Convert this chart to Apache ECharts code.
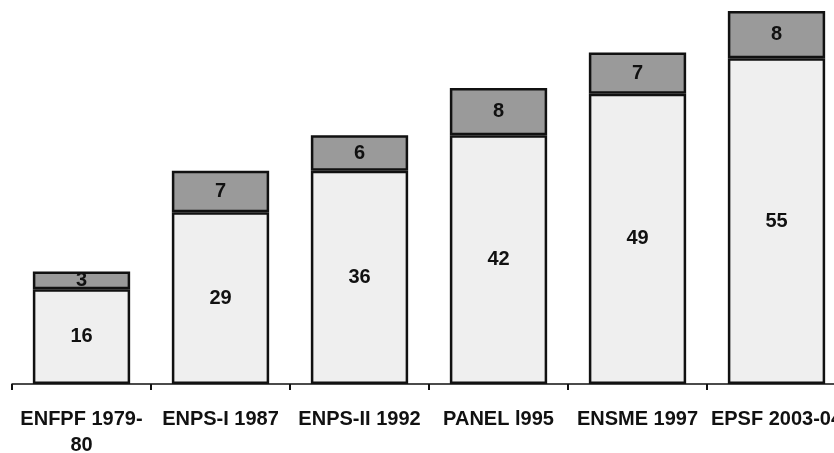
<!DOCTYPE html>
<html><head><meta charset="utf-8">
<script src="https://cdn.jsdelivr.net/npm/echarts@6/dist/echarts.min.js"></script>
<style>html,body{margin:0;padding:0;background:#fff}#c{width:834px;height:453px}</style>
</head><body><div id="c"></div>
<script>
const categories = ['ENFPF 1979-80','ENPS-I 1987','ENPS-II 1992','PANEL l995','ENSME 1997','EPSF 2003-04'];
const baseValues = [16, 29, 36, 42, 49, 55];
const topValues = [3, 7, 6, 8, 7, 8];

const chart = echarts.init(document.getElementById('c'));
const font = '"Liberation Sans", Arial, sans-serif';
const lbl = {show:true, position:'inside', color:'#111', fontFamily:font, fontWeight:'bold', fontSize:20};
chart.setOption({
  animation:false,
  grid:{left:12, right:-12, top:5, bottom:69, outerBoundsMode:'none', containLabel:false},
  xAxis:{type:'category', data:categories,
    axisLine:{lineStyle:{color:'#111', width:1.5}},
    axisTick:{show:true, length:6, lineStyle:{color:'#111', width:2}},
    axisLabel:{interval:0, margin:22, color:'#111', fontFamily:font, fontWeight:'bold', fontSize:20, lineHeight:26,
      formatter: v => v.replace('1979-80','1979-\n80')}
  },
  yAxis:{type:'value', min:0, max:64, show:false, splitLine:{show:false}},
  series:[
    {type:'bar', stack:'s', data:baseValues, barWidth:'70%',
      itemStyle:{color:'#efefef', borderColor:'#111', borderWidth:2.5}, label:lbl},
    {type:'bar', stack:'s', data:topValues, barWidth:'70%',
      itemStyle:{color:'#9a9a9a', borderColor:'#111', borderWidth:2.5}, label:lbl}
  ]
});
</script></body></html>
